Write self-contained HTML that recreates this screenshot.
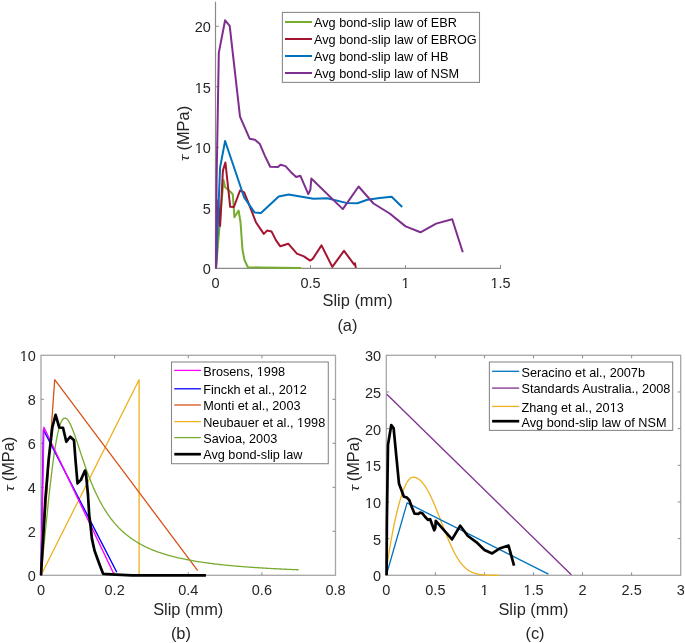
<!DOCTYPE html>
<html><head><meta charset="utf-8"><style>
html,body{margin:0;padding:0;background:#fff;}
svg{display:block;will-change:transform;font-family:"Liberation Sans",sans-serif;}
</style></head><body>
<svg width="685" height="643" viewBox="0 0 685 643">
<rect width="685" height="643" fill="#fff"/>
<line x1="215.5" y1="1.8" x2="215.5" y2="268.9" stroke="#8a8a8a" stroke-width="1.2"/>
<line x1="215" y1="268.4" x2="500.9" y2="268.4" stroke="#8a8a8a" stroke-width="1.2"/>
<text transform="translate(210.90,274.20) scale(1,1.05)" font-size="14.5" text-anchor="end" fill="#262626" >0</text>
<line x1="215.5" y1="207.80" x2="218.8" y2="207.80" stroke="#8a8a8a" stroke-width="1"/>
<text transform="translate(210.90,213.70) scale(1,1.05)" font-size="14.5" text-anchor="end" fill="#262626" >5</text>
<line x1="215.5" y1="147.30" x2="218.8" y2="147.30" stroke="#8a8a8a" stroke-width="1"/>
<text transform="translate(210.90,153.20) scale(1,1.05)" font-size="14.5" text-anchor="end" fill="#262626" >10</text>
<line x1="215.5" y1="86.80" x2="218.8" y2="86.80" stroke="#8a8a8a" stroke-width="1"/>
<text transform="translate(210.90,92.70) scale(1,1.05)" font-size="14.5" text-anchor="end" fill="#262626" >15</text>
<line x1="215.5" y1="26.30" x2="218.8" y2="26.30" stroke="#8a8a8a" stroke-width="1"/>
<text transform="translate(210.90,32.20) scale(1,1.05)" font-size="14.5" text-anchor="end" fill="#262626" >20</text>
<text transform="translate(215.50,287.80) scale(1,1.05)" font-size="14.5" text-anchor="middle" fill="#262626" >0</text>
<line x1="310.50" y1="268.4" x2="310.50" y2="265" stroke="#8a8a8a" stroke-width="1"/>
<text transform="translate(310.50,287.80) scale(1,1.05)" font-size="14.5" text-anchor="middle" fill="#262626" >0.5</text>
<line x1="405.50" y1="268.4" x2="405.50" y2="265" stroke="#8a8a8a" stroke-width="1"/>
<text transform="translate(405.50,287.80) scale(1,1.05)" font-size="14.5" text-anchor="middle" fill="#262626" >1</text>
<line x1="500.50" y1="268.4" x2="500.50" y2="265" stroke="#8a8a8a" stroke-width="1"/>
<text transform="translate(500.50,287.80) scale(1,1.05)" font-size="14.5" text-anchor="middle" fill="#262626" >1.5</text>
<polyline points="216.00,268.20 223.50,179.90 225.10,187.30 230.40,191.70 232.80,194.50 234.40,217.20 238.60,210.50 240.50,222.00 242.50,250.00 244.50,260.00 247.90,267.20 260.00,267.50 280.00,267.80 301.00,267.90" fill="none" stroke="#77AC30" stroke-width="2" stroke-linejoin="round" stroke-linecap="butt" />
<polyline points="216.00,268.20 218.30,200.00 220.10,226.00 222.90,170.60 225.40,162.50 230.20,206.80 233.90,207.00 240.00,190.50 244.20,192.30 250.30,207.70 255.90,222.20 263.80,233.90 267.10,230.60 271.50,231.40 275.90,240.10 280.30,246.30 288.20,243.70 296.90,253.60 303.90,256.40 310.10,260.60 312.70,258.90 321.50,245.40 332.30,266.90 344.00,250.80 354.20,264.60 354.90,263.20 355.90,267.90" fill="none" stroke="#A2142F" stroke-width="2" stroke-linejoin="round" stroke-linecap="butt" />
<polyline points="216.00,268.20 220.10,167.40 225.10,141.00 244.20,197.50 254.50,212.40 261.00,212.90 278.70,196.50 288.60,194.40 297.30,196.00 313.50,198.80 327.20,198.20 346.20,202.90 357.40,203.30 367.30,199.80 379.80,198.00 391.60,196.70 402.20,207.00" fill="none" stroke="#0072BD" stroke-width="2" stroke-linejoin="round" stroke-linecap="butt" />
<polyline points="216.00,268.20 216.60,180.00 218.80,52.90 225.10,20.30 229.70,25.90 240.00,116.70 249.60,138.70 254.90,139.70 259.90,144.10 265.00,156.10 270.20,166.70 278.00,167.00 280.50,164.80 285.50,166.10 290.50,171.70 296.10,177.00 300.40,175.80 308.30,194.10 310.40,189.70 311.30,178.50 342.80,209.10 358.60,186.50 373.50,203.50 389.70,213.50 405.60,226.40 420.50,232.30 436.10,223.60 452.20,219.20 462.80,252.20" fill="none" stroke="#7E2F8E" stroke-width="2" stroke-linejoin="round" stroke-linecap="butt" />
<rect x="282.4" y="12.4" width="197.1" height="70" fill="#fff" stroke="#8a8a8a" stroke-width="1.1"/>
<line x1="285" y1="22.0" x2="312" y2="22.0" stroke="#77AC30" stroke-width="2"/>
<text x="314.00" y="26.80" font-size="12.7" text-anchor="start" fill="#000" >Avg bond-slip law of EBR</text>
<line x1="285" y1="39.0" x2="312" y2="39.0" stroke="#A2142F" stroke-width="2"/>
<text x="314.00" y="43.80" font-size="12.7" text-anchor="start" fill="#000" >Avg bond-slip law of EBROG</text>
<line x1="285" y1="56.0" x2="312" y2="56.0" stroke="#0072BD" stroke-width="2"/>
<text x="314.00" y="60.80" font-size="12.7" text-anchor="start" fill="#000" >Avg bond-slip law of HB</text>
<line x1="285" y1="73.0" x2="312" y2="73.0" stroke="#7E2F8E" stroke-width="2"/>
<text x="314.00" y="77.80" font-size="12.7" text-anchor="start" fill="#000" >Avg bond-slip law of NSM</text>
<text x="357.60" y="306.10" font-size="16.4" text-anchor="middle" fill="#262626" >Slip (mm)</text>
<text x="347.40" y="331.00" font-size="16.4" text-anchor="middle" fill="#262626" >(a)</text>
<text transform="translate(188.50,150.50) rotate(-90)" font-size="16.4" text-anchor="start" fill="#262626">(MPa)</text>
<text transform="translate(188.50,160.90) rotate(-90) scale(1.0,0.80)" font-size="16.4" font-style="italic" text-anchor="start" fill="#262626">τ</text>
<rect x="41.0" y="355.3" width="294.5" height="219.99999999999994" fill="none" stroke="#a6a6a6" stroke-width="1.3"/>
<text transform="translate(41.00,594.90) scale(1,1.05)" font-size="14.5" text-anchor="middle" fill="#262626" >0</text>
<line x1="114.62" y1="575.3" x2="114.62" y2="572.3" stroke="#8c8c8c" stroke-width="1"/>
<line x1="114.62" y1="355.3" x2="114.62" y2="358.3" stroke="#8c8c8c" stroke-width="1"/>
<text transform="translate(114.62,594.90) scale(1,1.05)" font-size="14.5" text-anchor="middle" fill="#262626" >0.2</text>
<line x1="188.25" y1="575.3" x2="188.25" y2="572.3" stroke="#8c8c8c" stroke-width="1"/>
<line x1="188.25" y1="355.3" x2="188.25" y2="358.3" stroke="#8c8c8c" stroke-width="1"/>
<text transform="translate(188.25,594.90) scale(1,1.05)" font-size="14.5" text-anchor="middle" fill="#262626" >0.4</text>
<line x1="261.88" y1="575.3" x2="261.88" y2="572.3" stroke="#8c8c8c" stroke-width="1"/>
<line x1="261.88" y1="355.3" x2="261.88" y2="358.3" stroke="#8c8c8c" stroke-width="1"/>
<text transform="translate(261.88,594.90) scale(1,1.05)" font-size="14.5" text-anchor="middle" fill="#262626" >0.6</text>
<text transform="translate(335.50,594.90) scale(1,1.05)" font-size="14.5" text-anchor="middle" fill="#262626" >0.8</text>
<text transform="translate(35.80,581.20) scale(1,1.05)" font-size="14.5" text-anchor="end" fill="#262626" >0</text>
<line x1="41.0" y1="531.30" x2="44.0" y2="531.30" stroke="#8c8c8c" stroke-width="1"/>
<line x1="335.5" y1="531.30" x2="332.5" y2="531.30" stroke="#8c8c8c" stroke-width="1"/>
<text transform="translate(35.80,537.20) scale(1,1.05)" font-size="14.5" text-anchor="end" fill="#262626" >2</text>
<line x1="41.0" y1="487.30" x2="44.0" y2="487.30" stroke="#8c8c8c" stroke-width="1"/>
<line x1="335.5" y1="487.30" x2="332.5" y2="487.30" stroke="#8c8c8c" stroke-width="1"/>
<text transform="translate(35.80,493.20) scale(1,1.05)" font-size="14.5" text-anchor="end" fill="#262626" >4</text>
<line x1="41.0" y1="443.30" x2="44.0" y2="443.30" stroke="#8c8c8c" stroke-width="1"/>
<line x1="335.5" y1="443.30" x2="332.5" y2="443.30" stroke="#8c8c8c" stroke-width="1"/>
<text transform="translate(35.80,449.20) scale(1,1.05)" font-size="14.5" text-anchor="end" fill="#262626" >6</text>
<line x1="41.0" y1="399.30" x2="44.0" y2="399.30" stroke="#8c8c8c" stroke-width="1"/>
<line x1="335.5" y1="399.30" x2="332.5" y2="399.30" stroke="#8c8c8c" stroke-width="1"/>
<text transform="translate(35.80,405.20) scale(1,1.05)" font-size="14.5" text-anchor="end" fill="#262626" >8</text>
<text transform="translate(35.80,361.20) scale(1,1.05)" font-size="14.5" text-anchor="end" fill="#262626" >10</text>
<polyline points="41.00,575.30 139.10,379.70 139.10,574.00" fill="none" stroke="#EDB120" stroke-width="1.3" stroke-linejoin="round" stroke-linecap="butt" />
<polyline points="41.00,575.30 54.70,379.70 197.70,570.60" fill="none" stroke="#D95319" stroke-width="1.3" stroke-linejoin="round" stroke-linecap="butt" />
<polyline points="41.00,575.30 42.29,562.19 43.59,549.10 44.88,536.08 46.18,523.20 47.47,510.57 48.77,498.30 50.06,486.52 51.36,475.36 52.65,464.95 53.95,455.42 55.24,446.88 56.54,439.40 57.83,433.04 59.13,427.84 60.42,423.79 61.72,420.86 63.01,418.98 64.31,418.10 65.60,418.11 66.90,418.93 68.19,420.44 69.49,422.54 70.78,425.14 72.08,428.14 73.37,431.46 74.67,435.02 75.96,438.75 77.26,442.59 78.55,446.51 79.85,450.44 81.14,454.37 82.44,458.25 83.73,462.08 85.03,465.82 86.32,469.48 87.62,473.04 88.91,476.48 90.21,479.82 91.50,483.03 92.80,486.14 94.09,489.12 95.39,491.99 96.68,494.75 97.98,497.40 99.27,499.94 100.57,502.38 101.86,504.72 103.16,506.96 104.45,509.10 105.75,511.16 107.04,513.14 108.34,515.03 109.63,516.84 110.93,518.58 112.22,520.25 113.52,521.85 114.81,523.39 116.10,524.86 117.40,526.28 118.69,527.64 119.99,528.94 121.28,530.20 122.58,531.40 123.87,532.57 125.17,533.68 126.46,534.76 127.76,535.79 129.05,536.79 130.35,537.75 131.64,538.67 132.94,539.57 134.23,540.43 135.53,541.26 136.82,542.06 138.12,542.83 139.41,543.58 140.71,544.30 142.00,545.00 143.30,545.67 144.59,546.32 145.89,546.96 147.18,547.57 148.48,548.16 149.77,548.73 151.07,549.28 152.36,549.82 153.66,550.34 154.95,550.85 156.25,551.34 157.54,551.81 158.84,552.27 160.13,552.72 161.43,553.16 162.72,553.58 164.02,553.99 165.31,554.39 166.61,554.77 167.90,555.15 169.20,555.52 170.49,555.87 171.79,556.22 173.08,556.56 174.38,556.88 175.67,557.20 176.97,557.51 178.26,557.82 179.56,558.11 180.85,558.40 182.15,558.68 183.44,558.96 184.74,559.22 186.03,559.48 187.33,559.74 188.62,559.98 189.91,560.23 191.21,560.46 192.50,560.69 193.80,560.92 195.09,561.14 196.39,561.35 197.68,561.56 198.98,561.77 200.27,561.97 201.57,562.16 202.86,562.35 204.16,562.54 205.45,562.72 206.75,562.90 208.04,563.08 209.34,563.25 210.63,563.42 211.93,563.58 213.22,563.74 214.52,563.90 215.81,564.05 217.11,564.20 218.40,564.35 219.70,564.50 220.99,564.64 222.29,564.78 223.58,564.91 224.88,565.05 226.17,565.18 227.47,565.31 228.76,565.43 230.06,565.56 231.35,565.68 232.65,565.80 233.94,565.92 235.24,566.03 236.53,566.14 237.83,566.25 239.12,566.36 240.42,566.47 241.71,566.57 243.01,566.67 244.30,566.78 245.60,566.87 246.89,566.97 248.19,567.07 249.48,567.16 250.78,567.25 252.07,567.34 253.37,567.43 254.66,567.52 255.96,567.61 257.25,567.69 258.55,567.77 259.84,567.86 261.14,567.94 262.43,568.01 263.72,568.09 265.02,568.17 266.31,568.24 267.61,568.32 268.90,568.39 270.20,568.46 271.49,568.53 272.79,568.60 274.08,568.67 275.38,568.74 276.67,568.80 277.97,568.87 279.26,568.93 280.56,569.00 281.85,569.06 283.15,569.12 284.44,569.18 285.74,569.24 287.03,569.30 288.33,569.36 289.62,569.41 290.92,569.47 292.21,569.53 293.51,569.58 294.80,569.63 296.10,569.69 297.39,569.74 298.69,569.79" fill="none" stroke="#77AC30" stroke-width="1.3" stroke-linejoin="round" stroke-linecap="butt" />
<polyline points="41.00,575.30 43.40,429.60 116.80,572.30" fill="none" stroke="#0000FF" stroke-width="1.4" stroke-linejoin="round" stroke-linecap="butt" />
<polyline points="41.00,575.30 43.90,427.30 113.50,573.30" fill="none" stroke="#FF00FF" stroke-width="1.4" stroke-linejoin="round" stroke-linecap="butt" />
<polyline points="41.00,575.30 45.30,500.00 48.60,460.00 52.30,427.50 55.60,414.80 59.30,427.50 63.00,427.80 66.30,441.80 70.20,436.70 74.00,440.30 75.50,460.00 77.50,483.30 80.90,479.90 85.00,470.60 85.90,473.00 88.00,495.00 89.20,514.80 90.50,525.40 91.90,538.60 94.50,550.50 97.80,559.80 100.50,567.00 103.10,573.80 116.00,574.60 132.00,575.30 205.90,575.40" fill="none" stroke="#000" stroke-width="2.7" stroke-linejoin="round" stroke-linecap="butt" />
<rect x="171.5" y="362.0" width="156.8" height="101.7" fill="#fff" stroke="#8a8a8a" stroke-width="1.1"/>
<line x1="174.3" y1="370.4" x2="200.9" y2="370.4" stroke="#FF00FF" stroke-width="1.3"/>
<text x="203.20" y="375.60" font-size="12.7" text-anchor="start" fill="#000" >Brosens, 1998</text>
<line x1="174.3" y1="388.8" x2="200.9" y2="388.8" stroke="#0000FF" stroke-width="1.3"/>
<text x="203.20" y="394.00" font-size="12.7" text-anchor="start" fill="#000" >Finckh et al., 2012</text>
<line x1="174.3" y1="405.0" x2="200.9" y2="405.0" stroke="#D95319" stroke-width="1.3"/>
<text x="203.20" y="410.20" font-size="12.7" text-anchor="start" fill="#000" >Monti et al., 2003</text>
<line x1="174.3" y1="421.6" x2="200.9" y2="421.6" stroke="#EDB120" stroke-width="1.3"/>
<text x="203.20" y="426.80" font-size="12.7" text-anchor="start" fill="#000" >Neubauer et al., 1998</text>
<line x1="174.3" y1="437.6" x2="200.9" y2="437.6" stroke="#77AC30" stroke-width="1.3"/>
<text x="203.20" y="442.80" font-size="12.7" text-anchor="start" fill="#000" >Savioa, 2003</text>
<line x1="174.3" y1="454.2" x2="200.9" y2="454.2" stroke="#000" stroke-width="2.7"/>
<text x="203.20" y="459.40" font-size="12.7" text-anchor="start" fill="#000" >Avg bond-slip law</text>
<text x="188.20" y="615.00" font-size="16.4" text-anchor="middle" fill="#262626" >Slip (mm)</text>
<text x="180.90" y="639.00" font-size="16.4" text-anchor="middle" fill="#262626" >(b)</text>
<text transform="translate(14.00,481.30) rotate(-90)" font-size="16.4" text-anchor="start" fill="#262626">(MPa)</text>
<text transform="translate(14.00,491.40) rotate(-90) scale(1.0,0.80)" font-size="16.4" font-style="italic" text-anchor="start" fill="#262626">τ</text>
<rect x="386.3" y="355.3" width="294.40000000000003" height="219.99999999999994" fill="none" stroke="#a6a6a6" stroke-width="1.3"/>
<text transform="translate(386.30,594.90) scale(1,1.05)" font-size="14.5" text-anchor="middle" fill="#262626" >0</text>
<line x1="435.37" y1="575.3" x2="435.37" y2="572.3" stroke="#8c8c8c" stroke-width="1"/>
<line x1="435.37" y1="355.3" x2="435.37" y2="358.3" stroke="#8c8c8c" stroke-width="1"/>
<text transform="translate(435.37,594.90) scale(1,1.05)" font-size="14.5" text-anchor="middle" fill="#262626" >0.5</text>
<line x1="484.43" y1="575.3" x2="484.43" y2="572.3" stroke="#8c8c8c" stroke-width="1"/>
<line x1="484.43" y1="355.3" x2="484.43" y2="358.3" stroke="#8c8c8c" stroke-width="1"/>
<text transform="translate(484.43,594.90) scale(1,1.05)" font-size="14.5" text-anchor="middle" fill="#262626" >1</text>
<line x1="533.50" y1="575.3" x2="533.50" y2="572.3" stroke="#8c8c8c" stroke-width="1"/>
<line x1="533.50" y1="355.3" x2="533.50" y2="358.3" stroke="#8c8c8c" stroke-width="1"/>
<text transform="translate(533.50,594.90) scale(1,1.05)" font-size="14.5" text-anchor="middle" fill="#262626" >1.5</text>
<line x1="582.57" y1="575.3" x2="582.57" y2="572.3" stroke="#8c8c8c" stroke-width="1"/>
<line x1="582.57" y1="355.3" x2="582.57" y2="358.3" stroke="#8c8c8c" stroke-width="1"/>
<text transform="translate(582.57,594.90) scale(1,1.05)" font-size="14.5" text-anchor="middle" fill="#262626" >2</text>
<line x1="631.63" y1="575.3" x2="631.63" y2="572.3" stroke="#8c8c8c" stroke-width="1"/>
<line x1="631.63" y1="355.3" x2="631.63" y2="358.3" stroke="#8c8c8c" stroke-width="1"/>
<text transform="translate(631.63,594.90) scale(1,1.05)" font-size="14.5" text-anchor="middle" fill="#262626" >2.5</text>
<text transform="translate(680.70,594.90) scale(1,1.05)" font-size="14.5" text-anchor="middle" fill="#262626" >3</text>
<text transform="translate(381.10,581.20) scale(1,1.05)" font-size="14.5" text-anchor="end" fill="#262626" >0</text>
<line x1="386.3" y1="538.63" x2="389.3" y2="538.63" stroke="#8c8c8c" stroke-width="1"/>
<line x1="680.7" y1="538.63" x2="677.7" y2="538.63" stroke="#8c8c8c" stroke-width="1"/>
<text transform="translate(381.10,544.53) scale(1,1.05)" font-size="14.5" text-anchor="end" fill="#262626" >5</text>
<line x1="386.3" y1="501.97" x2="389.3" y2="501.97" stroke="#8c8c8c" stroke-width="1"/>
<line x1="680.7" y1="501.97" x2="677.7" y2="501.97" stroke="#8c8c8c" stroke-width="1"/>
<text transform="translate(381.10,507.87) scale(1,1.05)" font-size="14.5" text-anchor="end" fill="#262626" >10</text>
<line x1="386.3" y1="465.30" x2="389.3" y2="465.30" stroke="#8c8c8c" stroke-width="1"/>
<line x1="680.7" y1="465.30" x2="677.7" y2="465.30" stroke="#8c8c8c" stroke-width="1"/>
<text transform="translate(381.10,471.20) scale(1,1.05)" font-size="14.5" text-anchor="end" fill="#262626" >15</text>
<line x1="386.3" y1="428.63" x2="389.3" y2="428.63" stroke="#8c8c8c" stroke-width="1"/>
<line x1="680.7" y1="428.63" x2="677.7" y2="428.63" stroke="#8c8c8c" stroke-width="1"/>
<text transform="translate(381.10,434.53) scale(1,1.05)" font-size="14.5" text-anchor="end" fill="#262626" >20</text>
<line x1="386.3" y1="391.97" x2="389.3" y2="391.97" stroke="#8c8c8c" stroke-width="1"/>
<line x1="680.7" y1="391.97" x2="677.7" y2="391.97" stroke="#8c8c8c" stroke-width="1"/>
<text transform="translate(381.10,397.87) scale(1,1.05)" font-size="14.5" text-anchor="end" fill="#262626" >25</text>
<text transform="translate(381.10,361.20) scale(1,1.05)" font-size="14.5" text-anchor="end" fill="#262626" >30</text>
<polyline points="386.30,575.30 386.87,568.41 387.43,563.61 388.00,559.37 388.56,555.46 389.13,551.78 389.69,548.28 390.26,544.92 390.82,541.69 391.39,538.56 391.95,535.53 392.52,532.59 393.08,529.73 393.65,526.94 394.21,524.23 394.78,521.60 395.34,519.03 395.91,516.54 396.47,514.11 397.04,511.75 397.60,509.46 398.17,507.24 398.73,505.10 399.30,503.02 399.86,501.01 400.43,499.08 400.99,497.22 401.56,495.44 402.12,493.74 402.69,492.11 403.25,490.56 403.82,489.09 404.38,487.70 404.95,486.40 405.51,485.18 406.08,484.04 406.64,482.99 407.21,482.02 407.77,481.14 408.34,480.35 408.91,479.65 409.47,479.04 410.04,478.51 410.60,478.07 411.17,477.73 411.73,477.47 412.30,477.30 412.86,477.22 413.43,477.22 413.99,477.26 414.56,477.34 415.12,477.46 415.69,477.62 416.25,477.82 416.82,478.06 417.38,478.34 417.95,478.67 418.51,479.03 419.08,479.43 419.64,479.87 420.21,480.36 420.77,480.88 421.34,481.45 421.90,482.05 422.47,482.70 423.03,483.38 423.60,484.10 424.16,484.86 424.73,485.67 425.29,486.50 425.86,487.38 426.42,488.29 426.99,489.24 427.55,490.22 428.12,491.24 428.68,492.29 429.25,493.38 429.81,494.49 430.38,495.64 430.95,496.82 431.51,498.02 432.08,499.25 432.64,500.51 433.21,501.79 433.77,503.10 434.34,504.42 434.90,505.77 435.47,507.13 436.03,508.52 436.60,509.91 437.16,511.33 437.73,512.75 438.29,514.18 438.86,515.63 439.42,517.08 439.99,518.54 440.55,520.00 441.12,521.46 441.68,522.92 442.25,524.38 442.81,525.84 443.38,527.30 443.94,528.75 444.51,530.19 445.07,531.62 445.64,533.04 446.20,534.45 446.77,535.84 447.33,537.22 447.90,538.58 448.46,539.92 449.03,541.25 449.59,542.55 450.16,543.83 450.72,545.09 451.29,546.33 451.86,547.53 452.42,548.72 452.99,549.88 453.55,551.01 454.12,552.11 454.68,553.18 455.25,554.23 455.81,555.24 456.38,556.23 456.94,557.19 457.51,558.11 458.07,559.01 458.64,559.87 459.20,560.70 459.77,561.51 460.33,562.28 460.90,563.03 461.46,563.74 462.03,564.42 462.59,565.08 463.16,565.71 463.72,566.30 464.29,566.87 464.85,567.42 465.42,567.94 465.98,568.43 466.55,568.89 467.11,569.34 467.68,569.75 468.24,570.15 468.81,570.52 469.37,570.87 469.94,571.21 470.50,571.52 471.07,571.81 471.63,572.08 472.20,572.34 472.76,572.58 473.33,572.80 473.90,573.01 474.46,573.20 475.03,573.38 475.59,573.55 476.16,573.70 476.72,573.85 477.29,573.98 477.85,574.10 478.42,574.21 478.98,574.31 479.55,574.41 480.11,574.50 480.68,574.57 481.24,574.65 481.81,574.71 482.37,574.77 482.94,574.83 483.50,574.88 484.07,574.92 484.63,574.96 485.20,575.00 485.76,575.03 486.33,575.06 486.89,575.09 487.46,575.11 488.02,575.14 488.59,575.16 489.15,575.17 489.72,575.19 490.28,575.20 490.85,575.21 491.41,575.23 491.98,575.23 492.54,575.24 493.11,575.25 493.67,575.26 494.24,575.26 494.80,575.27 495.37,575.27 495.94,575.28 496.50,575.28 497.07,575.28 497.63,575.28 498.20,575.29 498.76,575.29" fill="none" stroke="#EDB120" stroke-width="1.3" stroke-linejoin="round" stroke-linecap="butt" />
<polyline points="386.30,575.30 407.10,502.92 548.42,574.20" fill="none" stroke="#0072BD" stroke-width="1.3" stroke-linejoin="round" stroke-linecap="butt" />
<polyline points="386.80,394.30 571.30,574.70" fill="none" stroke="#7E2F8E" stroke-width="1.3" stroke-linejoin="round" stroke-linecap="butt" />
<polyline points="386.56,575.24 386.87,521.78 388.00,444.75 391.26,425.00 393.63,428.39 398.95,483.42 403.91,496.75 406.65,497.36 409.23,500.03 411.87,507.30 414.55,513.72 418.58,513.91 419.87,512.57 422.45,513.36 425.04,516.75 427.93,519.97 430.15,519.24 434.23,530.33 435.32,527.66 435.78,520.88 452.05,539.42 460.21,525.72 467.91,536.03 476.27,542.09 484.48,549.91 492.18,553.48 500.24,548.21 508.55,545.54 514.03,565.54" fill="none" stroke="#000" stroke-width="2.7" stroke-linejoin="round" stroke-linecap="butt" />
<rect x="489.4" y="362.0" width="183.3" height="68.4" fill="#fff" stroke="#8a8a8a" stroke-width="1.1"/>
<line x1="492.1" y1="371.3" x2="519.2" y2="371.3" stroke="#0072BD" stroke-width="1.3"/>
<text x="521.50" y="376.60" font-size="12.7" text-anchor="start" fill="#000" >Seracino et al., 2007b</text>
<line x1="492.1" y1="388.1" x2="519.2" y2="388.1" stroke="#7E2F8E" stroke-width="1.3"/>
<text x="521.50" y="393.40" font-size="12.7" text-anchor="start" fill="#000" >Standards Australia., 2008</text>
<line x1="492.1" y1="406.4" x2="519.2" y2="406.4" stroke="#EDB120" stroke-width="1.3"/>
<text x="521.50" y="411.70" font-size="12.7" text-anchor="start" fill="#000" >Zhang et al., 2013</text>
<line x1="492.1" y1="421.2" x2="519.2" y2="421.2" stroke="#000" stroke-width="2.7"/>
<text x="521.50" y="426.50" font-size="12.7" text-anchor="start" fill="#000" >Avg bond-slip law of NSM</text>
<text x="533.50" y="615.00" font-size="16.4" text-anchor="middle" fill="#262626" >Slip (mm)</text>
<text x="535.00" y="638.60" font-size="16.4" text-anchor="middle" fill="#262626" >(c)</text>
<text transform="translate(359.10,481.30) rotate(-90)" font-size="16.4" text-anchor="start" fill="#262626">(MPa)</text>
<text transform="translate(359.10,491.30) rotate(-90) scale(1.0,0.80)" font-size="16.4" font-style="italic" text-anchor="start" fill="#262626">τ</text>
<g id="foot-masks"><g transform="translate(210.90,153.20) scale(1,1.05)"><rect x="-15.62" y="-1.33" width="2.89" height="2.08" fill="#fff"/><rect x="-10.95" y="-1.33" width="2.78" height="2.08" fill="#fff"/></g><g transform="translate(210.90,92.70) scale(1,1.05)"><rect x="-15.62" y="-1.33" width="2.89" height="2.08" fill="#fff"/><rect x="-10.95" y="-1.33" width="2.78" height="2.08" fill="#fff"/></g><g transform="translate(405.50,287.80) scale(1,1.05)"><rect x="-3.53" y="-1.33" width="2.89" height="2.08" fill="#fff"/><rect x="1.15" y="-1.33" width="2.78" height="2.08" fill="#fff"/></g><g transform="translate(500.50,287.80) scale(1,1.05)"><rect x="-9.58" y="-1.33" width="2.89" height="2.08" fill="#fff"/><rect x="-4.90" y="-1.33" width="2.78" height="2.08" fill="#fff"/></g><g transform="translate(35.80,361.20) scale(1,1.05)"><rect x="-15.62" y="-1.33" width="2.89" height="2.08" fill="#fff"/><rect x="-10.95" y="-1.33" width="2.78" height="2.08" fill="#fff"/></g><rect x="257.15" y="374.40" width="2.58" height="1.95" fill="#fff"/><rect x="261.34" y="374.40" width="2.48" height="1.95" fill="#fff"/><rect x="293.11" y="392.80" width="2.58" height="1.95" fill="#fff"/><rect x="297.31" y="392.80" width="2.48" height="1.95" fill="#fff"/><rect x="297.36" y="425.60" width="2.58" height="1.95" fill="#fff"/><rect x="301.56" y="425.60" width="2.48" height="1.95" fill="#fff"/><rect x="610.02" y="410.50" width="2.58" height="1.95" fill="#fff"/><rect x="614.22" y="410.50" width="2.48" height="1.95" fill="#fff"/><g transform="translate(484.43,594.90) scale(1,1.05)"><rect x="-3.53" y="-1.33" width="2.89" height="2.08" fill="#fff"/><rect x="1.15" y="-1.33" width="2.78" height="2.08" fill="#fff"/></g><g transform="translate(533.50,594.90) scale(1,1.05)"><rect x="-9.58" y="-1.33" width="2.89" height="2.08" fill="#fff"/><rect x="-4.90" y="-1.33" width="2.78" height="2.08" fill="#fff"/></g><g transform="translate(381.10,507.87) scale(1,1.05)"><rect x="-15.62" y="-1.33" width="2.89" height="2.08" fill="#fff"/><rect x="-10.95" y="-1.33" width="2.78" height="2.08" fill="#fff"/></g><g transform="translate(381.10,471.20) scale(1,1.05)"><rect x="-15.62" y="-1.33" width="2.89" height="2.08" fill="#fff"/><rect x="-10.95" y="-1.33" width="2.78" height="2.08" fill="#fff"/></g></g>
</svg>
</body></html>
